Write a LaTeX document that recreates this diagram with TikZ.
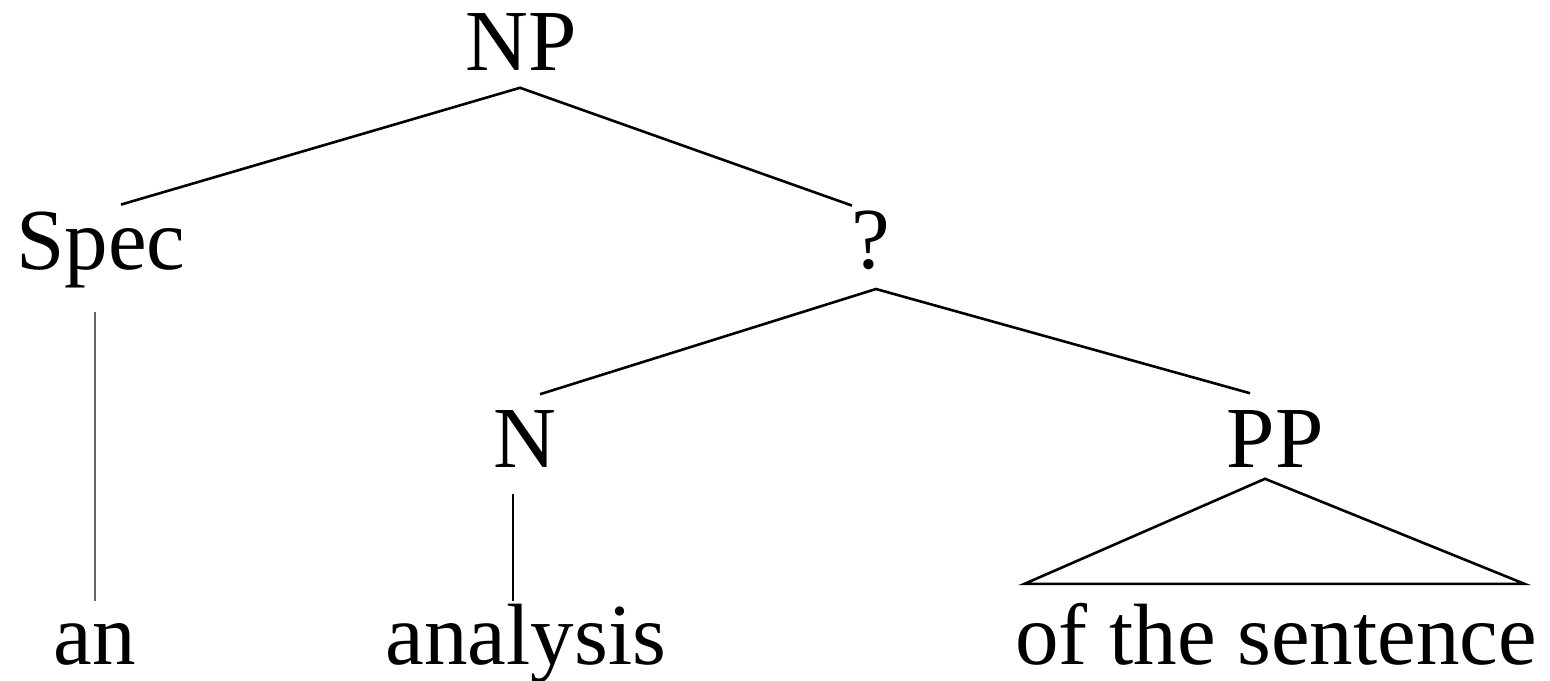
\documentclass[tikz,border=0pt]{standalone}
\usepackage{fontspec}
\setmainfont{Liberation Serif}
\begin{document}
\begin{tikzpicture}[
  x=0.25pt, y=-0.25pt,
  every node/.style={font=\fontsize{21.75}{26}\selectfont, anchor=base, inner sep=0pt},
  branch/.style={draw, line width=0.65pt},
  stem/.style={draw, line width=0.5pt, black!60}
]
\useasboundingbox (0,0) rectangle (1550,681);
% category labels
\node (NP)   at (521,71)  {NP};
\node (Spec) at (101,270) {Spec};
\node (Bar)  at (871,269) {?};
\node (N)    at (525,468) {N};
\node (PP)   at (1275,468) {PP};
% words
\node (an)   at (95,665)   {an};
\node (anal) at (526,665)  {analysis};
\node (sent) at (1276,665) {of the sentence};
% branches
\draw[branch] ([shift={(20,-7)}]Spec.north) -- ([shift={(-1,16)}]NP.south)
  -- ([shift={(-19,-5)}]Bar.north);
\draw[branch] ([shift={(15,-16)}]N.north) -- ([shift={(5,18)}]Bar.south)
  -- ([shift={(-25,-17)}]PP.north);
\draw[stem] ([shift={(-6,23)}]Spec.south) -- ([shift={(0,-22)}]an.north);
\draw[branch] ([shift={(-12,25)}]N.south) -- ([shift={(-13,-3)}]anal.north);
% roof over the PP
\draw[branch] ([shift={(10,-19)}]sent.north west) -- ([shift={(-10,10)}]PP.south)
  -- ([shift={(-13,-19)}]sent.north east) -- cycle;
\end{tikzpicture}
\end{document}
